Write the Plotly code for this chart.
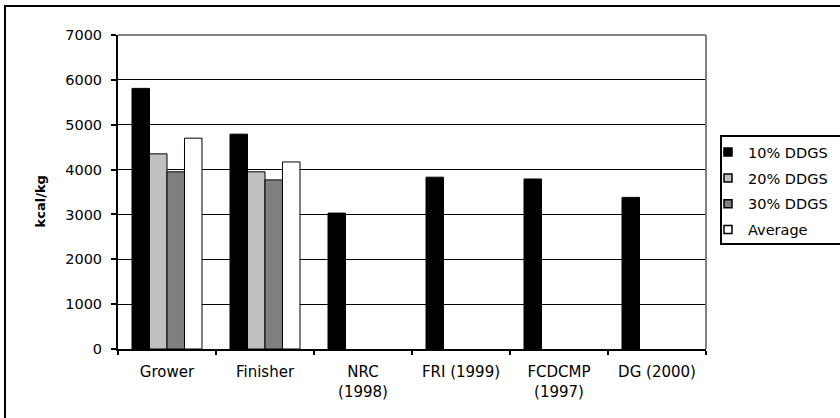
import plotly.graph_objects as go

# Categories and series values (kcal/kg)
categories = ["Grower", "Finisher", "NRC<br>(1998)", "FRI (1999)", "FCDCMP<br>(1997)", "DG (2000)"]
ddgs_10 = [5810, 4790, 3030, 3830, 3790, 3380]
ddgs_20 = [4350, 3950, None, None, None, None]
ddgs_30 = [3950, 3770, None, None, None, None]
average = [4700, 4170, None, None, None, None]

series = [
    ("10% DDGS", ddgs_10, "#000000"),
    ("20% DDGS", ddgs_20, "#C0C0C0"),
    ("30% DDGS", ddgs_30, "#808080"),
    ("Average", average, "#FFFFFF"),
]

FONT = "DejaVu Sans, sans-serif"

fig = go.Figure()
for name, vals, color in series:
    fig.add_trace(go.Bar(
        x=categories, y=vals, name=name, showlegend=False,
        marker=dict(color=color, line=dict(color="#000000", width=1)),
    ))
# legend entries with small square swatches
for name, vals, color in series:
    fig.add_trace(go.Scatter(
        x=[None], y=[None], name=name, legendgroup=name, mode="markers",
        marker=dict(symbol="square", size=8, color=color,
                    line=dict(color="#000000", width=1.5)),
    ))

fig.update_layout(
    width=840, height=418,
    margin=dict(l=118, r=134, t=35, b=69, autoexpand=False),
    paper_bgcolor="#FFFFFF", plot_bgcolor="#FFFFFF",
    barmode="group", bargap=0.286, bargroupgap=0,
    font=dict(family=FONT, size=14, color="#000000"),
    showlegend=True,
    legend=dict(
        x=1.0034, xanchor="left", y=0.678, yanchor="top",
        bgcolor="rgba(0,0,0,0)", borderwidth=0,
        tracegroupgap=4, itemwidth=30,
        font=dict(family=FONT, size=14.5, color="#000000"),
    ),
    xaxis=dict(
        type="category", showline=True, linecolor="#000000", linewidth=2,
        ticks="outside", tickson="boundaries", ticklen=4, tickwidth=2, tickcolor="#000000",
        showgrid=False, tickfont=dict(family=FONT, size=15),
        ticklabelstandoff=8,
    ),
    yaxis=dict(
        range=[0, 7000], dtick=1000, showline=True, linecolor="#000000", linewidth=2,
        ticks="outside", ticklen=5, tickwidth=2, tickcolor="#000000",
        showgrid=True, gridcolor="#000000", gridwidth=1,
        zeroline=False, tickfont=dict(family=FONT, size=14.5),
        ticklabelstandoff=6,
    ),
    annotations=[dict(
        text="<b>kcal/kg</b>", textangle=-90, showarrow=False,
        xref="paper", yref="paper", x=-0.1327, y=0.47,
        xanchor="center", yanchor="middle",
        font=dict(family=FONT, size=13, color="#000000"),
    )],
    shapes=[
        # plot area: grey top and right borders
        dict(type="line", xref="paper", yref="paper", x0=0, x1=1, y0=1, y1=1,
             line=dict(color="#808080", width=2)),
        dict(type="line", xref="paper", yref="paper", x0=1, x1=1, y0=0, y1=1,
             line=dict(color="#808080", width=2)),
        # legend frame
        dict(type="rect", xref="paper", yref="paper", x0=1.0255, x1=1.3, y0=0.334, y1=0.678,
             line=dict(color="#000000", width=2), fillcolor="rgba(0,0,0,0)"),
        # chart frame
        dict(type="rect", xref="paper", yref="paper", x0=-0.1922, x1=1.3, y0=-0.3, y1=1.0924,
             line=dict(color="#000000", width=2), fillcolor="rgba(0,0,0,0)"),
    ],
)

fig.write_html("out.html")
